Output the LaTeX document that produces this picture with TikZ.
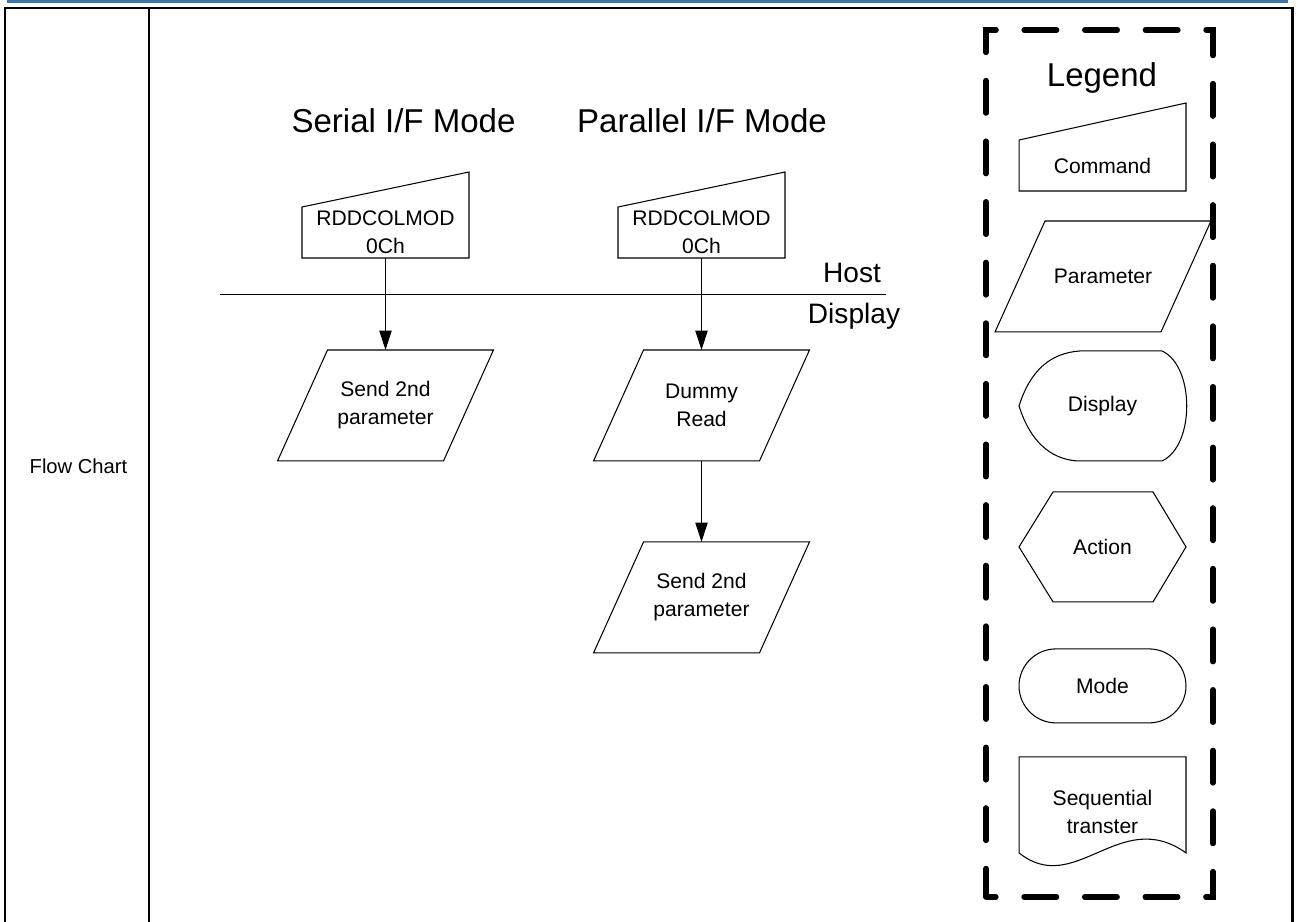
\documentclass[tikz,border=0pt]{standalone}
\usepackage{fontspec}
\setmainfont{Liberation Sans}
\usepackage{xcolor}
\usetikzlibrary{positioning,arrows.meta}
\definecolor{barblue}{RGB}{68,114,168}

\begin{document}
\begin{tikzpicture}[x=0.02cm,y=-0.02cm,node distance=1.84cm,
  thin line/.style={line width=0.6pt},
  lbl/.style={font=\fontsize{12}{15.9}\selectfont,align=center,inner sep=0pt,outer sep=0pt},
  big/.style={font=\fontsize{18.8}{22}\selectfont,inner sep=0pt,anchor=base},
  cmd/.style={lbl,minimum width=3.34cm,minimum height=1.02cm,
    append after command={\pgfextra{\draw[thin line] (\tikzlastnode.south west) -- (\tikzlastnode.north west)
      -- ([shift={(0,-#1)}]\tikzlastnode.north east) -- (\tikzlastnode.south east) -- cycle;}}},
  param/.style={lbl,minimum width=4.32cm,minimum height=2.22cm,
    append after command={\pgfextra{\draw[thin line] ([shift={(50,0)}]\tikzlastnode.north west) -- (\tikzlastnode.north east)
      -- ([shift={(-50,0)}]\tikzlastnode.south east) -- (\tikzlastnode.south west) -- cycle;}}},
  disp/.style={lbl,minimum width=3.34cm,minimum height=2.2cm,
    append after command={\pgfextra{\draw[thin line] (\tikzlastnode.west) .. controls +(11,-35) and +(-30,2) .. ([shift={(61,0)}]\tikzlastnode.north west)
      -- ([shift={(-24,0)}]\tikzlastnode.north east) .. controls +(33,15) and +(33,-15) .. ([shift={(-24,0)}]\tikzlastnode.south east)
      -- ([shift={(58,0)}]\tikzlastnode.south west) .. controls +(-27,-2) and +(11,35) .. (\tikzlastnode.west) -- cycle;}}},
  hexa/.style={lbl,minimum width=3.34cm,minimum height=2.2cm,
    append after command={\pgfextra{\draw[thin line] (\tikzlastnode.west) -- ([shift={(34,0)}]\tikzlastnode.north west)
      -- ([shift={(-33,0)}]\tikzlastnode.north east) -- (\tikzlastnode.east) -- ([shift={(-33,0)}]\tikzlastnode.south east)
      -- ([shift={(34,0)}]\tikzlastnode.south west) -- cycle;}}},
  modebox/.style={lbl,draw,thin line,minimum width=3.34cm,minimum height=1.48cm,rounded corners=0.74cm},
  doc/.style={lbl,minimum width=3.34cm,minimum height=2.2cm,
    append after command={\pgfextra{\draw[thin line] ([shift={(0,-14)}]\tikzlastnode.south west) -- (\tikzlastnode.north west)
      -- (\tikzlastnode.north east) -- ([shift={(0,-14)}]\tikzlastnode.south east)
      .. controls +(-66,-47) and +(56,45) .. ([shift={(0,-14)}]\tikzlastnode.south west) -- cycle;}}},
  flow/.style={thin line,-{Triangle[length=11pt,width=7pt]}}]
\useasboundingbox (0,0) rectangle (1298,922);

\fill[barblue] (7,0) rectangle (1288,3.5);
\draw[line width=1.7pt] (5,922) -- (5,8) -- (1292,8) -- (1292,922);
\draw[line width=1.2pt] (149,8) -- (149,922);
\node (fc) [lbl,anchor=base,font=\fontsize{11.5}{14}\selectfont] at (78.5,473) {Flow Chart};

\node (tS) [big] at (403.5,133) {Serial I/F Mode};
\node (tP) [big] at (702,133) {Parallel I/F Mode};

\node (cmdS) [cmd=35] at (385.5,232.5) {RDDCOLMOD\\0Ch};
\node (cmdP) [cmd=35] at (701.5,232.5) {RDDCOLMOD\\0Ch};

\coordinate (hdL) at (220,294.5);
\coordinate (hdR) at (886,294.5);
\draw[thin line] (hdL) -- (hdR);
\node (host) [big,font=\fontsize{16}{19}\selectfont] at (852,282) {Host};
\node (dsp) [big,font=\fontsize{16}{19}\selectfont] at (854,323) {Display};

\node (parS) [param,below=of cmdS] {Send 2nd\\parameter};
\node (dummy) [param,below=of cmdP] {Dummy\\Read};
\node (par2) [param,below=1.62cm of dummy] {Send 2nd\\parameter};

\draw[flow] (cmdS) -- (parS);
\draw[flow] (cmdP) -- (dummy);
\draw[flow] (dummy) -- (par2);

\draw[line width=3.1pt,line cap=round,dash pattern=on 18.5pt off 16pt,dash phase=2.3pt]
  (986,897) -- (986,30) -- (1213,30) -- (1213,897) -- cycle;
\node (lg) [big] at (1102,87) {Legend};
\node (lgCmd) [cmd=37] at (1102.5,165.5) {Command};
\node (lgPar) [param,below=0.6cm of lgCmd,xshift=0.01cm] {Parameter};
\node (lgDsp) [disp,below=0.38cm of lgPar,xshift=-0.01cm] {Display};
\node (lgAct) [hexa,below=0.62cm of lgDsp] {Action};
\node (lgMode) [modebox,below=0.94cm of lgAct] {Mode};
\node (lgSeq) [doc,below=0.68cm of lgMode] {Sequential\\transter};
\end{tikzpicture}
\end{document}
